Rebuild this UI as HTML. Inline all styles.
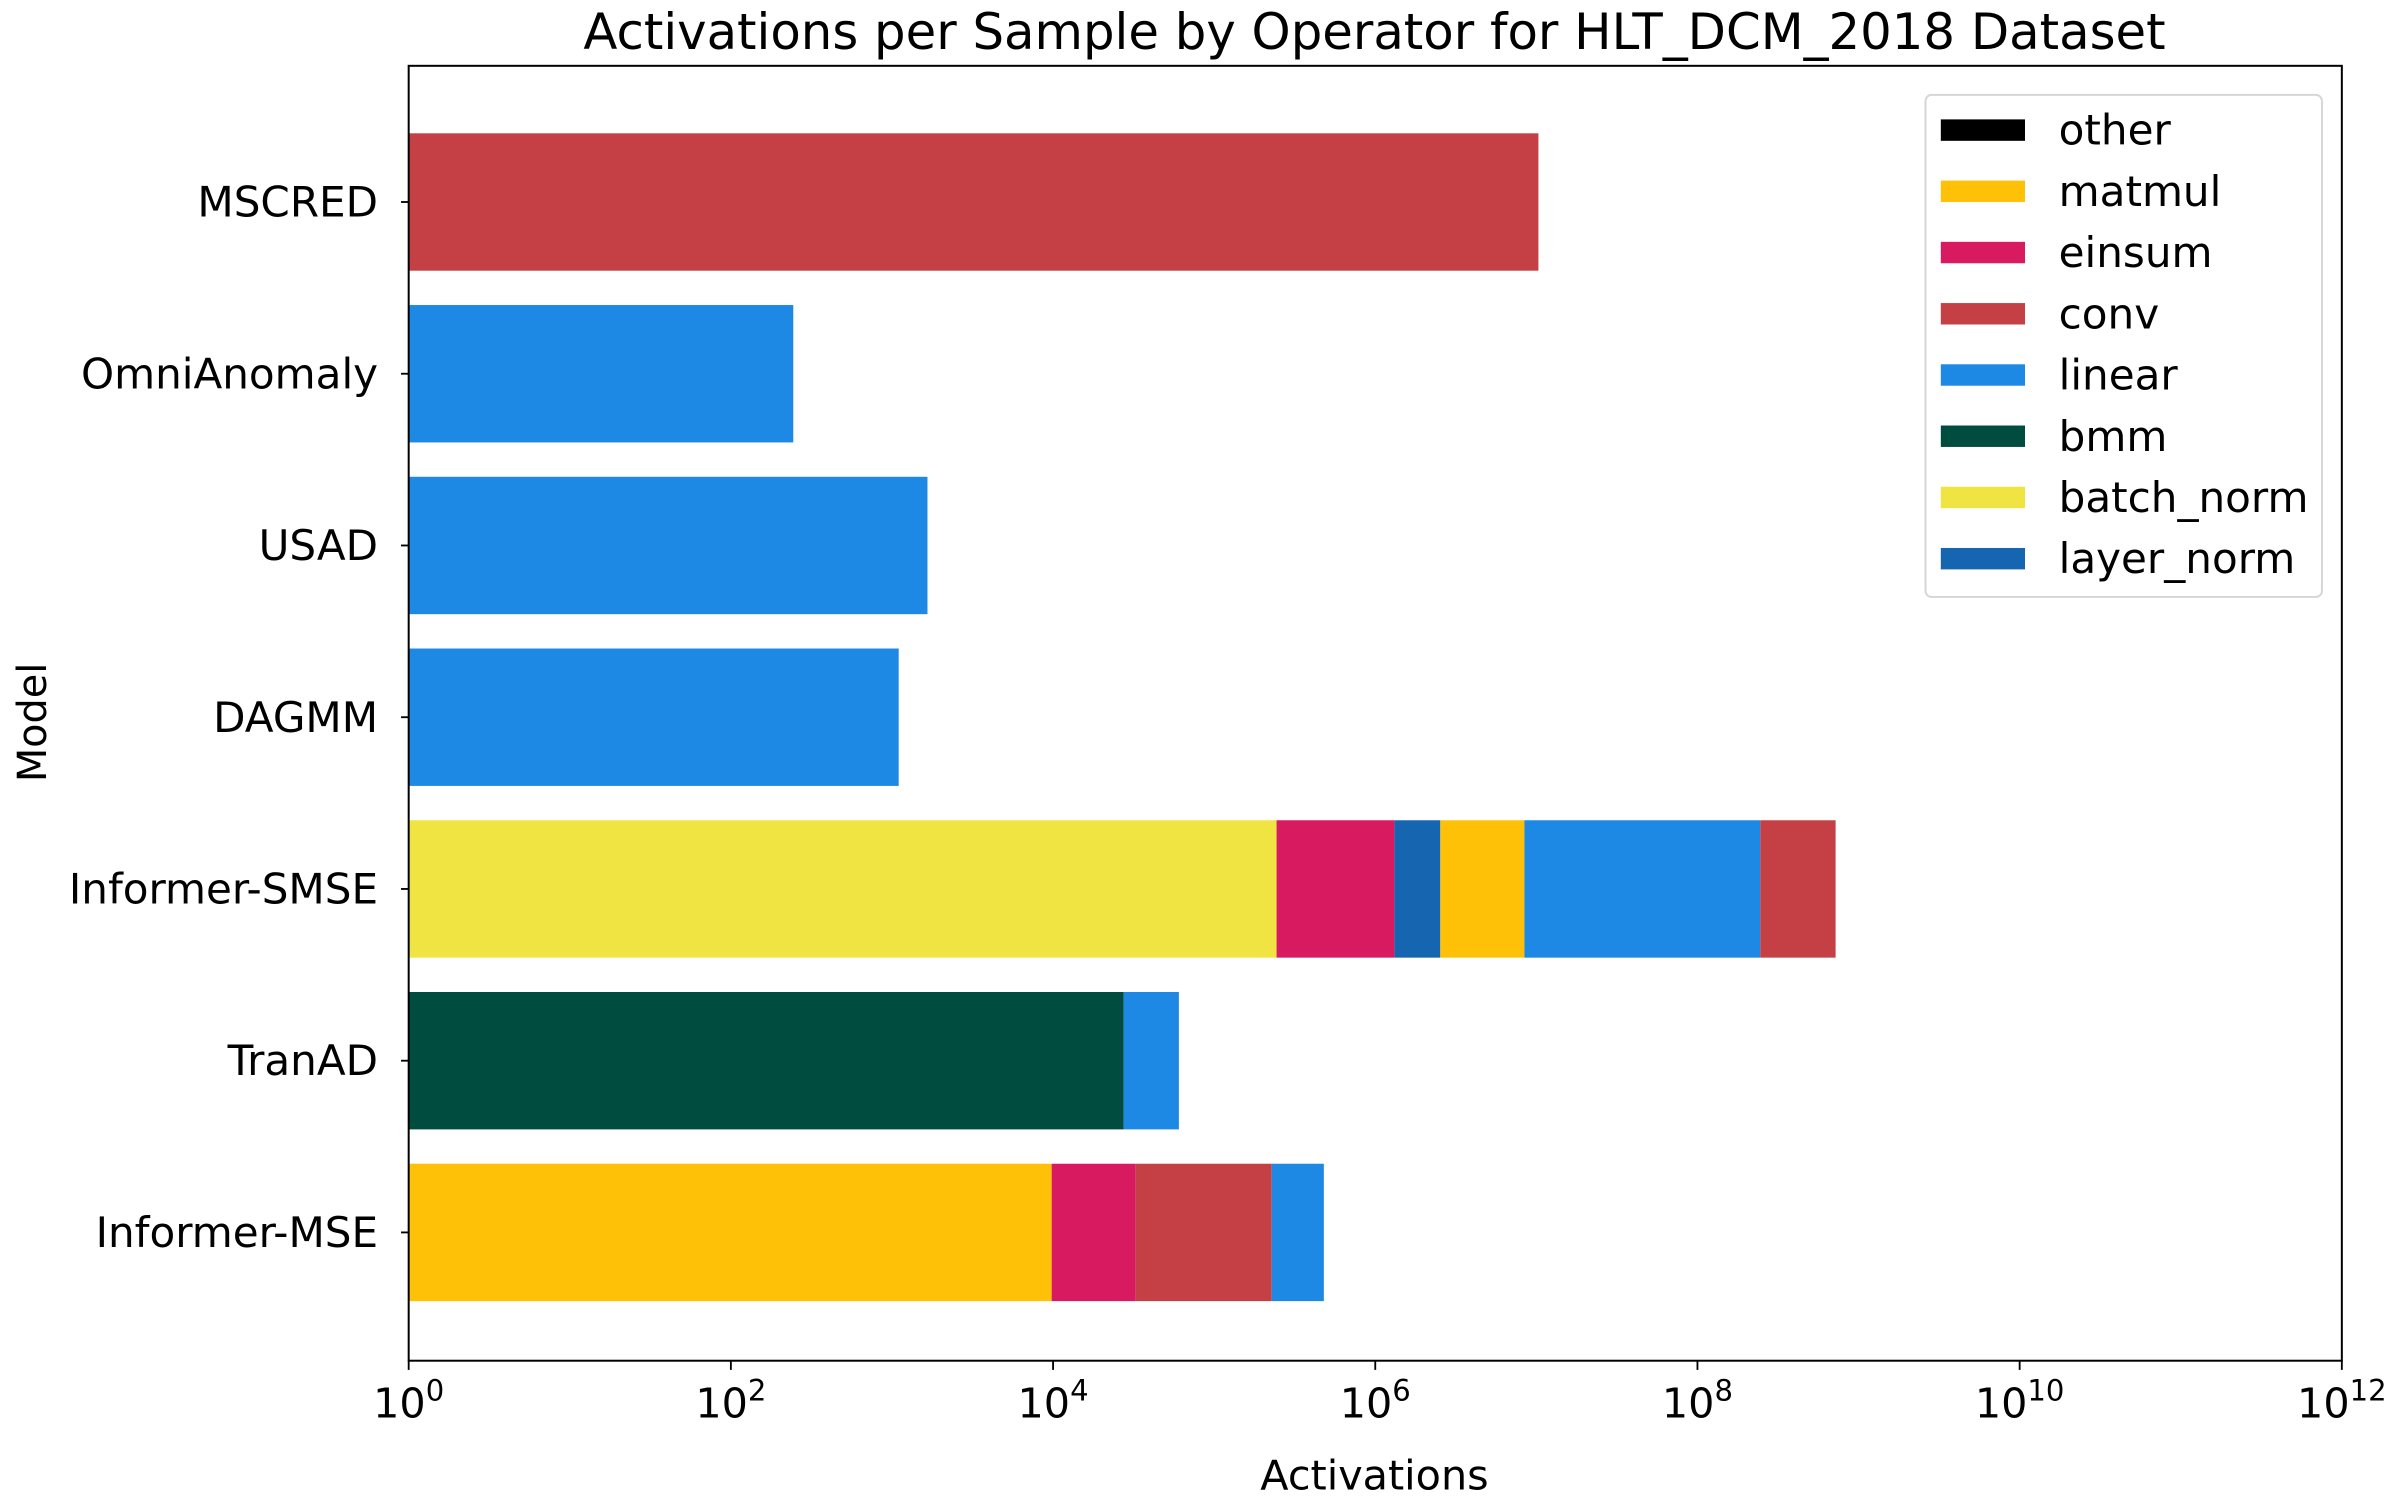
<!DOCTYPE html>
<html><head><meta charset="utf-8"><style>
html,body{margin:0;padding:0;background:#fff;}
svg{display:block;font-family:"DejaVu Sans","Liberation Sans",sans-serif;}
</style></head><body>
<svg id="chart" width="2400" height="1500" viewBox="0 0 1568 980" xmlns="http://www.w3.org/2000/svg">
<rect width="1568" height="980" fill="#fff"/>
<text x="898" y="32" font-size="32.5" text-anchor="middle">Activations per Sample by Operator for HLT_DCM_2018 Dataset</text>
<g id="bars"></g>
<g id="axes"></g>
<text x="898" y="973" font-size="27" text-anchor="middle">Activations</text>
<text transform="translate(30,472) rotate(-90)" font-size="26" text-anchor="middle">Model</text>
<g id="legend"></g>
</svg>
<script>
const models = ["MSCRED","OmniAnomaly","USAD","DAGMM","Informer-SMSE","TranAD","Informer-MSE"];
const segOps = [
  ["conv"],
  ["linear"],
  ["linear"],
  ["linear"],
  ["batch_norm","einsum","layer_norm","matmul","linear","conv"],
  ["bmm","linear"],
  ["matmul","einsum","conv","linear"]
];
const segVals = [
  [1.03e7],
  [243],
  [1660],
  [1100],
  [2.44e5,1.07e6,1.22e6,5.9e6,2.37e8,4.75e8],
  [2.74e4,3.3e4],
  [9.8e3,2.28e4,1.95e5,2.52e5]
];
const legendOps = ["other","matmul","einsum","conv","linear","bmm","batch_norm","layer_norm"];
const opColors = {other:"#000000",matmul:"#ffc107",einsum:"#d81b60",conv:"#c44044",linear:"#1e88e5",bmm:"#004d40",batch_norm:"#f0e442",layer_norm:"#1565b0"};
const xTickExps = [0,2,4,6,8,10,12];

const NS="http://www.w3.org/2000/svg";
const L=267,R=1530,T=43,B=889,minE=0,maxE=12;
function xs(v){return L+(Math.log10(v)-minE)/(maxE-minE)*(R-L);}
const yMin=-0.793, yMax=models.length-1+0.747;
function ys(i){return T+(i-yMin)/(yMax-yMin)*(B-T);}
function yc(i){return ys(i);}
const bh=ys(0.4)-ys(-0.4);
function mk(tag,attrs,parent){const e=document.createElementNS(NS,tag);for(const k in attrs)e.setAttribute(k,attrs[k]);parent.appendChild(e);return e;}

const bars=document.getElementById('bars');
models.forEach((m,i)=>{
  let cum=1;
  segVals[i].forEach((v,j)=>{
    const x0=xs(cum); cum+=v; const x1=xs(cum);
    const r=mk('rect',{x:x0,y:yc(i)-bh/2,width:x1-x0,height:bh,fill:opColors[segOps[i][j]]},bars);
    
    
  });
});

const ax=document.getElementById('axes');
const frame=mk('rect',{x:L,y:T,width:R-L,height:B-T,fill:"none",stroke:"#000","stroke-width":1.3},ax);


models.forEach((m,i)=>{
  mk('line',{x1:L-5,x2:L,y1:yc(i),y2:yc(i),stroke:"#000","stroke-width":1.2},ax);
  const t=mk('text',{x:L-20,y:yc(i)+9.5,"font-size":27.5,"text-anchor":"end"},ax);
  t.textContent=m;
  
  
});
xTickExps.forEach(e=>{
  const x=xs(Math.pow(10,e));
  mk('line',{x1:x,x2:x,y1:B,y2:B+6,stroke:"#000","stroke-width":1.2},ax);
  const t=mk('text',{x:x,y:926,"font-size":27,"text-anchor":"middle"},ax);
  
  
  const a=document.createElementNS(NS,'tspan');a.textContent="10";t.appendChild(a);
  const b=document.createElementNS(NS,'tspan');b.textContent=String(e);b.setAttribute('dy','-11');b.setAttribute('font-size','19');t.appendChild(b);
});

const lg=document.getElementById('legend');
mk('rect',{x:1258,y:62,width:259,height:328,rx:4,fill:"#fff",stroke:"#d6d6d6","stroke-width":1.3},lg);
legendOps.forEach((op,k)=>{
  const y=85+k*40;
  const g=mk('g',{},lg);
  
  
  mk('rect',{x:1268,y:y-7,width:55,height:14,fill:opColors[op]},g);
  const t=mk('text',{x:1345,y:y+9.5,"font-size":27.5},g);
  t.textContent=op;
});
</script>
</body></html>
